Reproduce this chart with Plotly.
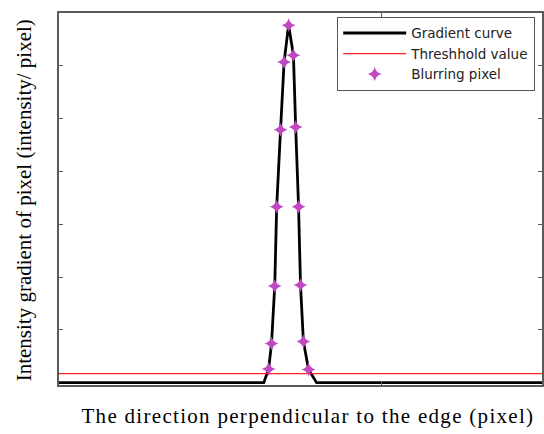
import plotly.graph_objects as go

# Gradient profile across the edge (pixel position, gradient magnitude)
curve_x = [0, 63.6, 65.1, 66.0, 67.0, 67.6, 68.8, 69.9, 71.3, 72.8, 73.5, 74.4, 75.0, 75.9, 77.5, 80.0, 150]
curve_y = [0, 0, 0.26, 0.74, 1.83, 3.33, 4.79, 6.07, 6.77, 6.20, 4.84, 3.33, 1.85, 0.78, 0.25, 0, 0]

# Pixels whose gradient exceeds the threshold
blur_x = [65.1, 66.0, 67.0, 67.6, 68.8, 69.9, 71.3, 72.8, 73.5, 74.4, 75.0, 75.9, 77.5]
blur_y = [0.26, 0.74, 1.83, 3.33, 4.79, 6.07, 6.77, 6.20, 4.84, 3.33, 1.85, 0.78, 0.25]

threshold = 0.17
x_range = [0, 150]

serif = "Liberation Serif, Times New Roman, serif"
sans = "DejaVu Sans, Verdana, sans-serif"

fig = go.Figure()
fig.add_trace(go.Scatter(
    x=curve_x, y=curve_y, mode="lines", name="Gradient curve",
    line=dict(color="black", width=2.8),
))
fig.add_trace(go.Scatter(
    x=x_range, y=[threshold, threshold], mode="lines", name="Threshhold value",
    line=dict(color="#ff2020", width=1.2),
))
fig.add_trace(go.Scatter(
    x=blur_x, y=blur_y, mode="markers", name="Blurring pixel",
    marker=dict(symbol="star-diamond", size=10, color="#c048c0",
                line=dict(width=0)),
    cliponaxis=False,
))

axis_common = dict(
    showline=True, linecolor="#5a5a5a", linewidth=1.5, mirror="ticks",
    ticks="inside", ticklen=4, tickcolor="#5a5a5a", tickwidth=1.2,
    showticklabels=False, showgrid=False, zeroline=False,
)

fig.update_layout(
    width=544, height=434,
    margin=dict(l=59, r=0, t=13, b=49),
    paper_bgcolor="white", plot_bgcolor="white",
    showlegend=True,
    legend=dict(
        x=0.576, y=0.99, xanchor="left", yanchor="top",
        bgcolor="white", bordercolor="#555555", borderwidth=1,
        font=dict(family=sans, size=13.5, color="#222222"),
        tracegroupgap=0, itemwidth=63,
    ),
    xaxis=dict(range=x_range, tickvals=[0, 100], **axis_common),
    yaxis=dict(range=[-0.045, 7], tickvals=[1, 2, 3, 4, 5, 6], **axis_common),
)

fig.add_annotation(
    text="The direction perpendicular to the edge (pixel)",
    xref="paper", yref="paper", x=0.515, y=-0.083, xanchor="center", yanchor="middle",
    showarrow=False, font=dict(family=serif, size=21, color="black"),
    name="xcaption",
)
fig.add_annotation(
    text="Intensity gradient of pixel (intensity/ pixel)",
    xref="paper", yref="paper", x=-0.072, y=0.497, xanchor="center", yanchor="middle",
    textangle=-90, showarrow=False, font=dict(family=serif, size=21, color="black"),
    name="ycaption",
)

# Loosen the tracking of the horizontal axis caption a little
spacing_js = """
var gd = document.getElementById('{plot_id}');
function spreadTitles() {
  var texts = gd.querySelectorAll('.annotation-text');
  if (texts.length > 0) { texts[0].style.letterSpacing = '1.3px'; }
}
spreadTitles();
gd.on('plotly_afterplot', spreadTitles);
"""

fig.write_html("out.html", post_script=spacing_js)
